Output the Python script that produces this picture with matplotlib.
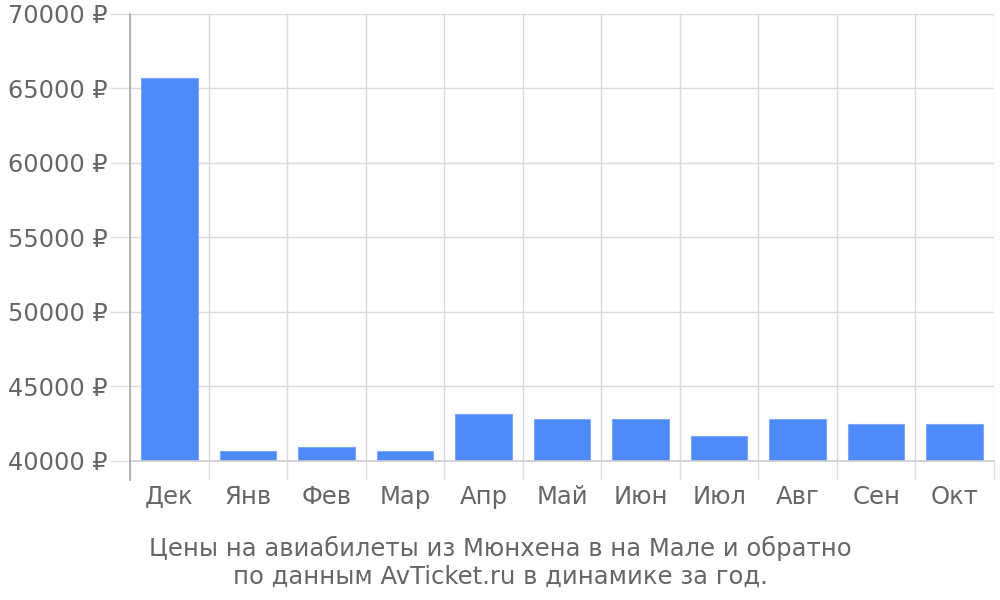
import matplotlib
matplotlib.use("Agg")
import matplotlib.pyplot as plt
import numpy as np

months = ["Дек", "Янв", "Фев", "Мар", "Апр", "Май", "Июн", "Июл", "Авг", "Сен", "Окт"]
prices = [65700, 40640, 40920, 40700, 43160, 42800, 42800, 41710, 42800, 42450, 42450]
yticks = [40000, 45000, 50000, 55000, 60000, 65000, 70000]
ytick_labels = [f"{v} ₽" for v in yticks]
title = "Цены на авиабилеты из Мюнхена в на Мале и обратно\nпо данным AvTicket.ru в динамике за год."

plt.rcParams['font.family'] = ['DejaVu Sans']
fig = plt.figure(figsize=(10, 6), dpi=100)
ax = fig.add_axes([0.13, 0.2317, 0.864, 0.745])

x = np.arange(len(months))
ax.bar(x, [p - 40000 for p in prices], bottom=40000, width=0.72,
       color="#4e8af9", edgecolor="#7aa7fb", linewidth=0.8, zorder=3)

ax.set_xlim(-0.5, len(months) - 0.5)
ax.set_ylim(40000, 70000)

ax.set_yticks(yticks)
ax.set_yticklabels(ytick_labels)
ax.set_xticks(x)
ax.set_xticklabels(months)
ax.set_xticks(np.arange(len(months) + 1) - 0.5, minor=True)

ax.tick_params(axis='y', length=14.4, width=1, color="#dddddd", labelsize=17.3,
               labelcolor="#666666", pad=1.5)
ax.tick_params(axis='x', which='major', length=0, labelsize=17.5,
               labelcolor="#666666", pad=17)
ax.tick_params(axis='x', which='minor', length=13.7, width=1, color="#dddddd")

ax.grid(axis='y', color="#dadada", linewidth=1, zorder=0)
ax.grid(axis='x', which='minor', color="#dadada", linewidth=1, zorder=0)
ax.grid(axis='x', which='major', visible=False)

for s in ['top', 'right']:
    ax.spines[s].set_visible(False)
ax.spines['bottom'].set_color("#cccccc")
ax.spines['bottom'].set_linewidth(1.2)
ax.spines['bottom'].set_zorder(4)
ax.spines['left'].set_visible(False)
ax.plot([0, 0], [-0.0425, 1.0], transform=ax.transAxes, color="#aaaaaa",
        linewidth=1.2, clip_on=False, zorder=5)

fig.text(0.5, 0.063, title, ha='center', va='center', fontsize=17.5,
         color="#666666", linespacing=1.2)

fig.savefig("out.png", dpi=100)
